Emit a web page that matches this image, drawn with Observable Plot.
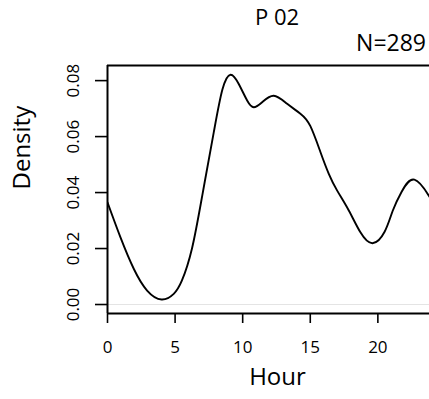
<!DOCTYPE html>
<html><head><meta charset="utf-8">
<script src="https://cdn.jsdelivr.net/npm/d3@7"></script>
<script src="https://cdn.jsdelivr.net/npm/@observablehq/plot@0.6"></script>
<style>
body{margin:0;background:#fff;overflow:hidden;font-family:"Open Sans",sans-serif;}
#wrap{position:relative;width:429px;height:399px;overflow:hidden;}
.hdr{position:absolute;line-height:1;font-size:22px;color:#000;white-space:nowrap;}
#title{left:277px;top:5px;transform:translateX(-50%);}
#n{right:3px;top:31px;font-size:23px;}
#chart{position:absolute;left:0;top:58px;}
</style></head><body>
<div id="wrap">
<div class="hdr" id="title"></div>
<div class="hdr" id="n"></div>
<div id="chart"></div>
</div>
<script>
const titleText = "P 02";
const nText = "N=289";
const xLabel = "Hour";
const yLabel = "Density";
const hours   = [0, 0.96, 1.95, 2.93, 4.0, 4.9, 5.5, 6.25, 7.05, 7.86, 8.5, 9.1, 9.71, 10.33, 10.82, 11.44, 12.3, 13.29, 14.27, 15.0, 15.75, 16.37, 16.99, 17.85, 18.71, 19.6, 20.5, 21.1, 21.75, 22.7, 23.77, 24];
const density = [0.0365, 0.024, 0.0127, 0.005, 0.0018, 0.0038, 0.0085, 0.02, 0.04, 0.0615, 0.0768, 0.0821, 0.0788, 0.0729, 0.0705, 0.0723, 0.0746, 0.0717, 0.0682, 0.0638, 0.0545, 0.0467, 0.0407, 0.0336, 0.0258, 0.0219, 0.026, 0.0335, 0.0402, 0.0446, 0.0389, 0.037];
const xTicks = [0, 5, 10, 15, 20];
const yTicks = [0, 0.02, 0.04, 0.06, 0.08];
const xDomain = [0, 23.82];
const yDomain = [-0.00321, 0.0854];

document.getElementById("title").textContent = titleText;
document.getElementById("n").textContent = nText;

const data = hours.map((h, i) => ({h, d: density[i]}));

const chart = Plot.plot({
  width: 429,
  height: 341,
  marginLeft: 107,
  marginRight: 0,
  marginTop: 7,
  marginBottom: 86,
  style: {fontFamily: "'Open Sans', sans-serif", fontSize: "17px", color: "#000", background: "transparent", overflow: "visible"},
  x: {domain: xDomain},
  y: {domain: yDomain},
  marks: [
    Plot.ruleY([0], {stroke: "#e4e4e4", strokeWidth: 1}),
    Plot.line(data, {x: "h", y: "d", curve: "natural", stroke: "#000", strokeWidth: 1.9, clip: true}),
    Plot.ruleY([yDomain[0], yDomain[1]], {stroke: "#000", strokeWidth: 2}),
    Plot.ruleX([xDomain[0]], {stroke: "#000", strokeWidth: 2}),
    Plot.axisX(xTicks, {anchor: "bottom", tickSize: 10, tickPadding: 17, strokeWidth: 1.6, label: null}),
    Plot.axisY(yTicks, {anchor: "left", tickSize: 12, tickRotate: -90, tickPadding: 17, strokeWidth: 1.6, tickFormat: d => d.toFixed(2), label: null}),
    Plot.text([xLabel], {frameAnchor: "bottom", dx: 9, dy: 71, fontSize: 24}),
    Plot.text([yLabel], {frameAnchor: "left", dx: -85, rotate: -90, fontSize: 24})
  ]
});
document.getElementById("chart").appendChild(chart);
</script>
</body></html>
